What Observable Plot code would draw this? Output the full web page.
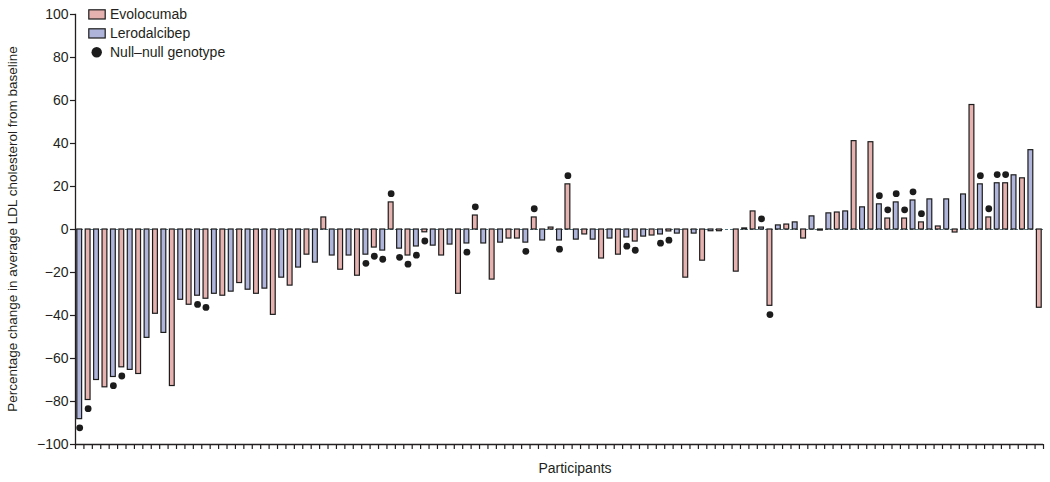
<!DOCTYPE html>
<html><head><meta charset="utf-8">
<script src="https://cdn.jsdelivr.net/npm/d3@7"></script>
<script src="https://cdn.jsdelivr.net/npm/@observablehq/plot@0.6"></script>
<style>body{margin:0;background:#fff} #chart svg{display:block}</style>
</head><body><div id="chart"></div>
<script>
// Percentage change in average LDL cholesterol from baseline, per participant (left to right)
const values = [
  -88.2,-79.3,-70.0,-73.4,-68.6,-64.1,-65.3,-67.2,-50.4,-39.2,
  -48.1,-72.8,-32.7,-35.0,-30.8,-32.2,-29.9,-30.8,-28.9,-24.9,
  -28.0,-29.9,-27.5,-39.7,-22.4,-26.1,-17.7,-11.7,-15.4,5.6,
  -12.1,-18.7,-12.1,-21.5,-11.7,-8.4,-9.8,12.6,-8.9,-12.1,
  -7.9,-1.3,-7.5,-12.1,-7.0,-29.9,-6.5,6.5,-6.5,-23.3,
  -6.1,-4.2,-4.2,-6.1,5.6,-5.1,0.9,-5.1,21.0,-4.7,
  -2.3,-4.7,-13.5,-4.2,-11.7,-3.7,-5.6,-3.3,-2.8,-2.3,
  -0.9,-1.9,-22.4,-1.9,-14.5,-0.8,-0.8,null,-19.6,0.5,
  8.4,0.9,-35.5,1.9,2.3,3.3,-4.2,6.1,-0.5,7.5,
  7.9,8.4,41.1,10.3,40.6,11.7,5.1,12.6,5.1,13.5,
  3.3,14.0,1.4,14.0,-1.4,16.3,57.9,21.0,5.6,21.5,
  21.5,25.2,23.8,36.9,-36.4
];
// Treatment per participant: E = Evolocumab, L = Lerodalcibep
const drugCodes = [
  "L","E","L","E","L","E","L","E","L","E",
  "L","E","L","E","L","E","L","E","L","E",
  "L","E","L","E","L","E","L","E","L","E",
  "L","E","L","E","L","E","L","E","L","E",
  "L","E","L","E","L","E","L","E","L","E",
  "L","E","E","L","E","L","E","L","E","L",
  "E","L","E","L","E","L","E","L","E","L",
  "E","L","E","L","E","L","E","L","E","L",
  "E","L","E","L","E","L","E","L","E","L",
  "E","L","E","L","E","L","E","L","E","L",
  "E","L","E","L","E","L","E","L","E","L",
  "E","L","E","L","E"
];
// Participants (1-based) with null-null genotype
const nullNull = [1,2,5,6,15,16,35,36,37,38,39,40,41,42,47,48,54,55,58,59,66,67,70,71,82,83,96,97,98,99,100,101,108,109,110,111];
const drugNames = {E: "Evolocumab", L: "Lerodalcibep"};
const seriesNames = ["Evolocumab", "Lerodalcibep"];
const seriesColors = ["#e6b2af", "#aeb4da"];
const nullLabel = "Null\u2013null genotype";
const yTicks = [-100, -80, -60, -40, -20, 0, 20, 40, 60, 80, 100];
const yLabel = "Percentage change in average LDL cholesterol from baseline";
const xLabel = "Participants";

const data = values.map((v, k) => ({i: k, v, drug: drugNames[drugCodes[k]], nn: nullNull.includes(k + 1)}))
  .filter(d => d.v !== null);

const ink = "#231f20";
const font = "'Liberation Sans', Arial, sans-serif";

const chart = Plot.plot({
  width: 1050, height: 482,
  marginLeft: 75, marginRight: 7, marginTop: 14, marginBottom: 38,
  style: {fontFamily: font, fontSize: "14px", color: ink, background: "#fff", overflow: "visible"},
  x: {type: "linear", domain: [0, values.length], axis: null},
  y: {domain: [-100, 100], axis: null},
  color: {domain: seriesNames, range: seriesColors},
  marks: [
    Plot.ruleY([0], {stroke: "#557a83", strokeDasharray: "3,2", strokeWidth: 1}),
    Plot.rect(data, {x1: "i", x2: d => d.i + 1, y1: 0, y2: "v", fill: "drug",
      stroke: "#1c1c1c", strokeWidth: 1.2, insetLeft: 1.8, insetRight: 1.8}),
    Plot.dot(data.filter(d => d.nn && d.v < 0), {x: d => d.i + 0.5, y: "v", dy: 8.7, r: 3.4, fill: "#1c1c1c"}),
    Plot.dot(data.filter(d => d.nn && d.v >= 0), {x: d => d.i + 0.5, y: "v", dy: -8.7, r: 3.4, fill: "#1c1c1c"}),
    Plot.axisY({ticks: yTicks, tickSize: 5, tickPadding: 2, label: null, stroke: ink, strokeWidth: 1.2}),
    Plot.axisX({ticks: d3.range(0, values.length + 1), tickSize: 5, tickFormat: () => "", label: null, stroke: ink, strokeWidth: 1.2}),
    Plot.ruleY([-100], {stroke: ink, strokeWidth: 1.3}),
    Plot.frame({anchor: "left", stroke: ink, strokeWidth: 1.3})
  ]
});
document.getElementById("chart").appendChild(chart);

const svg = d3.select(chart);
// axis titles
svg.append("text").attr("transform", "translate(17,229) rotate(-90)")
  .attr("text-anchor", "middle").attr("font-size", 13.5).attr("fill", ink).text(yLabel);
svg.append("text").attr("x", 575).attr("y", 473)
  .attr("text-anchor", "middle").attr("font-size", 14).attr("fill", ink).text(xLabel);
// legend
const lg = svg.append("g").attr("font-size", 14).attr("fill", ink).attr("text-anchor", "start");
seriesNames.forEach((name, k) => {
  lg.append("rect").attr("x", 88.8).attr("y", 9.8 + k * 19).attr("width", 16.4).attr("height", 9.2)
    .attr("fill", seriesColors[k]).attr("stroke", "#1c1c1c").attr("stroke-width", 1.2);
  lg.append("text").attr("x", 110).attr("y", 19 + k * 19).attr("text-anchor", "start").text(name);
});
lg.append("circle").attr("cx", 96.7).attr("cy", 52.3).attr("r", 5.2).attr("fill", "#1c1c1c");
lg.append("text").attr("x", 110).attr("y", 57).attr("text-anchor", "start").text(nullLabel);
</script></body></html>
